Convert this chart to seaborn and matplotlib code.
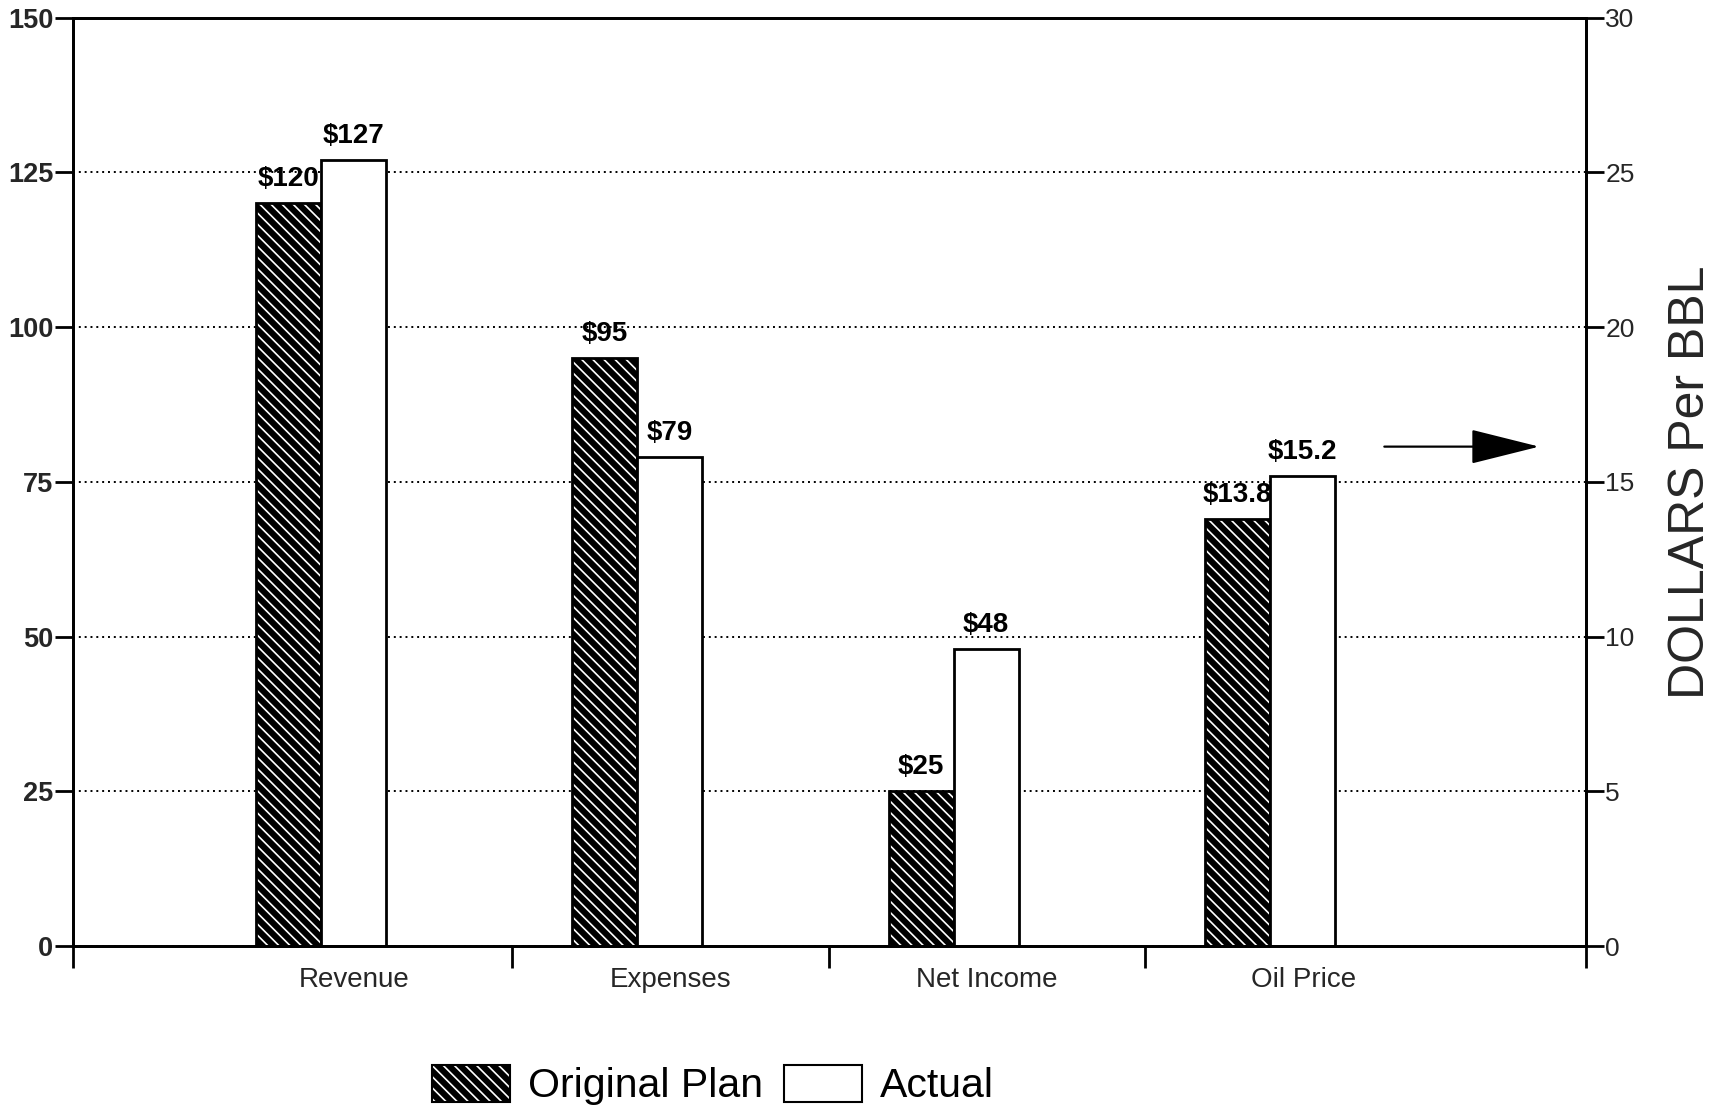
import pandas as pd
import matplotlib
matplotlib.use('Agg')
import matplotlib.pyplot as plt
import matplotlib.patches as mpatches
import seaborn as sns

# data
categories = ['Revenue', 'Expenses', 'Net Income', 'Oil Price']
series = ['Original Plan', 'Actual']
plan_left = [120, 95, 25]        # left axis ($ millions)
actual_left = [127, 79, 48]
plan_oil = 13.8                  # right axis (dollars per bbl)
actual_oil = 15.2
left_ticks = [0, 25, 50, 75, 100, 125, 150]
right_ticks = [0, 5, 10, 15, 20, 25, 30]
plan_labels = ['$120', '$95', '$25', '$13.8']
actual_labels = ['$127', '$79', '$48', '$15.2']

# oil price is drawn against the right axis, which is the left one divided by 5
ratio = left_ticks[-1] / right_ticks[-1]

df = pd.DataFrame({
    'category': categories * 2,
    'series': [series[0]] * 4 + [series[1]] * 4,
    'value': plan_left + [plan_oil * ratio] + actual_left + [actual_oil * ratio],
})

sns.set_theme(style='white')
plt.rcParams['font.family'] = ['Liberation Sans', 'DejaVu Sans']
plt.rcParams['hatch.linewidth'] = 1.2
plt.rcParams['text.color'] = 'black'

HATCH = '\\\\\\'


def white_hatch(p):
    if hasattr(p, 'set_hatchcolor'):
        p.set_hatchcolor('white')
    else:
        p._hatch_color = (1, 1, 1, 1)


fig = plt.figure(figsize=(17.35, 11.1), dpi=100)
ax = fig.add_axes([0.042, 0.1477, 0.872, 0.8363])

sns.barplot(data=df, x='category', y='value', hue='series',
            order=categories, hue_order=series,
            palette=['black', 'white'], saturation=1,
            width=0.41, edgecolor='black', linewidth=2,
            legend=False, ax=ax)

# hatched look for the plan bars: black fill, white diagonal lines
for p in ax.containers[0]:
    p.set_hatch(HATCH)
    white_hatch(p)

ax.bar_label(ax.containers[0], labels=plan_labels, padding=8,
             fontsize=20, fontweight='bold')
ax.bar_label(ax.containers[1], labels=actual_labels, padding=8,
             fontsize=20, fontweight='bold')

# axes ranges
ax.set_xlim(-0.783, 3.997)
ax.set_ylim(left_ticks[0], left_ticks[-1])
ax.set_xlabel('')
ax.set_ylabel('')

# boundary ticks between groups, category names between them
ax.set_xticks([-0.783, 0.605, 1.605, 2.605, 3.997])
ax.set_xticklabels([''] * 5)
ax.set_xticks([i + 0.105 for i in range(len(categories))], minor=True)
ax.set_xticklabels(categories, minor=True, fontsize=20)
ax.tick_params(axis='x', which='major', direction='out', length=16,
               width=2, color='black', bottom=True)
ax.tick_params(axis='x', which='minor', length=0, pad=15, bottom=True)

ax.set_yticks(left_ticks)
ax.set_yticklabels([str(t) for t in left_ticks], fontsize=19.5,
                   fontweight='bold')
ax.tick_params(axis='y', direction='out', length=13, width=2, pad=1,
               color='black', left=True)

ax.yaxis.grid(True, linestyle=(0, (1, 2)), color='black', linewidth=1.4)
ax.xaxis.grid(False)
ax.set_axisbelow(True)

ax2 = ax.twinx()
ax2.set_ylim(right_ticks[0], right_ticks[-1])
ax2.set_yticks(right_ticks)
ax2.set_yticklabels([str(t) for t in right_ticks], fontsize=19)
ax2.tick_params(axis='y', direction='out', length=13, width=2, pad=1,
                color='black', right=True)
ax2.set_ylabel('DOLLARS Per BBL', fontsize=36, labelpad=24)
ax2.grid(False)

for a in (ax, ax2):
    for s in a.spines.values():
        s.set_visible(True)
        s.set_color('black')
        s.set_linewidth(2)

# arrow pointing to the right-hand axis
ax.annotate('', xy=(0.971, 0.538), xytext=(0.865, 0.538),
            xycoords='axes fraction', textcoords='axes fraction',
            arrowprops=dict(arrowstyle='-|>,head_length=4.4,head_width=1.1',
                            mutation_scale=10, color='black', lw=1.6))

# legend at the bottom
handles = [mpatches.Patch(facecolor='black', edgecolor='black',
                          hatch=HATCH, linewidth=1.5, label=series[0]),
           mpatches.Patch(facecolor='white', edgecolor='black',
                          linewidth=1.5, label=series[1])]
white_hatch(handles[0])
leg = fig.legend(handles=handles, loc='center', bbox_to_anchor=(0.411, 0.0225),
                 ncol=2, frameon=False, fontsize=29.5, handlelength=1.9,
                 handleheight=1.0, handletextpad=0.45, columnspacing=0.5)
for p in leg.get_patches()[:1]:
    p.set_hatch(HATCH)
    white_hatch(p)

fig.savefig('out.png', dpi=100)
